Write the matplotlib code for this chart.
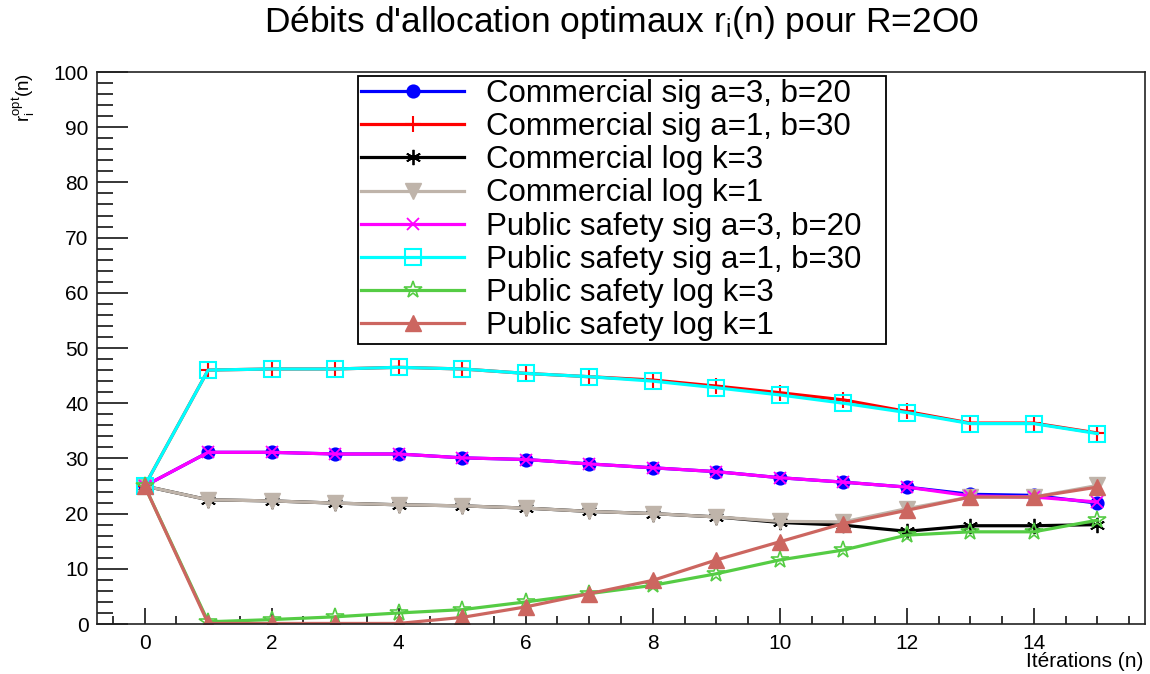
import matplotlib
matplotlib.use("Agg")
import matplotlib.pyplot as plt
from matplotlib.ticker import MultipleLocator

plt.rcParams['font.family'] = ['Liberation Sans', 'DejaVu Sans']
plt.rcParams['mathtext.fontset'] = 'custom'
plt.rcParams['mathtext.rm'] = 'Liberation Sans'
plt.rcParams['mathtext.it'] = 'Liberation Sans'

iterations = list(range(16))

com_sig_a3_b20 = [25, 31.1, 31.1, 30.8, 30.8, 30.1, 29.8, 29.0, 28.3, 27.6, 26.5, 25.7, 24.8, 23.5, 23.3, 21.9]
com_sig_a1_b30 = [25, 46.0, 46.2, 46.2, 46.5, 46.2, 45.4, 44.8, 44.2, 43.1, 41.9, 40.6, 38.5, 36.4, 36.4, 34.6]
com_log_k3 = [25, 22.5, 22.3, 21.9, 21.6, 21.4, 21.0, 20.4, 20.0, 19.4, 18.4, 17.9, 16.8, 17.8, 17.8, 18.0]
com_log_k1 = [25, 22.5, 22.3, 21.9, 21.6, 21.4, 21.0, 20.4, 20.0, 19.4, 18.6, 18.5, 20.9, 23.0, 23.0, 25.1]
ps_sig_a3_b20 = [25, 31.1, 31.1, 30.8, 30.8, 30.1, 29.8, 29.0, 28.3, 27.6, 26.5, 25.7, 24.8, 23.2, 23.0, 22.1]
ps_sig_a1_b30 = [25, 46.0, 46.2, 46.2, 46.5, 46.2, 45.4, 44.8, 44.0, 42.8, 41.5, 40.0, 38.3, 36.3, 36.3, 34.5]
ps_log_k3 = [25, 0.4, 0.8, 1.3, 2.0, 2.6, 4.0, 5.5, 7.0, 9.1, 11.6, 13.4, 16.1, 16.7, 16.7, 18.8]
ps_log_k1 = [25, 0.1, 0.1, 0.1, 0.1, 1.2, 3.1, 5.5, 7.9, 11.6, 14.9, 18.2, 20.6, 23.0, 23.0, 24.8]

labels = ["Commercial sig a=3, b=20", "Commercial sig a=1, b=30", "Commercial log k=3",
          "Commercial log k=1", "Public safety sig a=3, b=20", "Public safety sig a=1, b=30",
          "Public safety log k=3", "Public safety log k=1"]

series = [com_sig_a3_b20, com_sig_a1_b30, com_log_k3, com_log_k1,
          ps_sig_a3_b20, ps_sig_a1_b30, ps_log_k3, ps_log_k1]

colors = ["#0000ff", "#ff0000", "#000000", "#bfb4aa", "#ff00ff", "#00ffff", "#55cc44", "#cc6660"]
styles = [
    dict(marker='o', ms=9, mfc="#0000ff", mew=1.2),
    dict(marker='+', ms=12, mew=1.5),
    dict(marker=(6, 2, 0), ms=11, mew=1.3),
    dict(marker='v', ms=11, mfc="#bfb4aa", mew=1.0),
    dict(marker='x', ms=9, mew=1.3),
    dict(marker='s', ms=11, mfc='none', mew=1.5),
    dict(marker='*', ms=13, mfc='none', mew=1.2),
    dict(marker='^', ms=11, mfc="#cc6660", mew=1.0),
]

fig = plt.figure(figsize=(11.5, 6.74), dpi=100)
ax = fig.add_axes([97/1150, 1-624/674, (1145-97)/1150, (624-72)/674])

for y, lab, c, st in zip(series, labels, colors, styles):
    ax.plot(iterations, y, color=c, lw=2.3, mec=c, label=lab, **st)

ax.set_xlim(-0.75, 15.75)
ax.set_ylim(0, 100)
ax.xaxis.set_major_locator(MultipleLocator(2))
ax.xaxis.set_minor_locator(MultipleLocator(0.5))
ax.yaxis.set_major_locator(MultipleLocator(10))
ax.yaxis.set_minor_locator(MultipleLocator(2))
ax.tick_params(axis='y', which='major', direction='in', length=22, width=1.1, labelsize=15, pad=6)
ax.tick_params(axis='y', which='minor', direction='in', length=11.5, width=1.1)
ax.tick_params(axis='x', which='major', direction='in', length=11.5, width=1.1, labelsize=15, pad=7)
ax.tick_params(axis='x', which='minor', direction='in', length=6, width=1.1)
for s in ax.spines.values():
    s.set_linewidth(1.2)
    s.set_color('#222222')

bx0 = (358-97)/1048
by0 = (624-347)/552
leg = ax.legend(loc='upper left', bbox_to_anchor=(bx0, by0, (886-358)/1048, (347-76)/552),
                mode='expand', fontsize=22.5, frameon=True, fancybox=False, framealpha=1,
                edgecolor='black', handlelength=3.3, handletextpad=0.7, labelspacing=0.1,
                borderpad=0.1, borderaxespad=0)
leg.get_frame().set_linewidth(1.3)

fig.text(622/1150, 1-32/674, "Débits d'allocation optimaux r$_{\\mathregular{i}}$(n) pour R=2O0",
         ha='center', va='baseline', fontsize=25.5)
fig.text(24/1150, 1-73/674, "r$_{\\mathregular{i}}^{\\mathregular{opt}}$(n)", rotation=90,
         ha='center', va='top', fontsize=13.5)
fig.text(1143/1150, 1-667/674, "Itérations (n)", ha='right', va='baseline', fontsize=15)

fig.savefig("out.png", dpi=100)
